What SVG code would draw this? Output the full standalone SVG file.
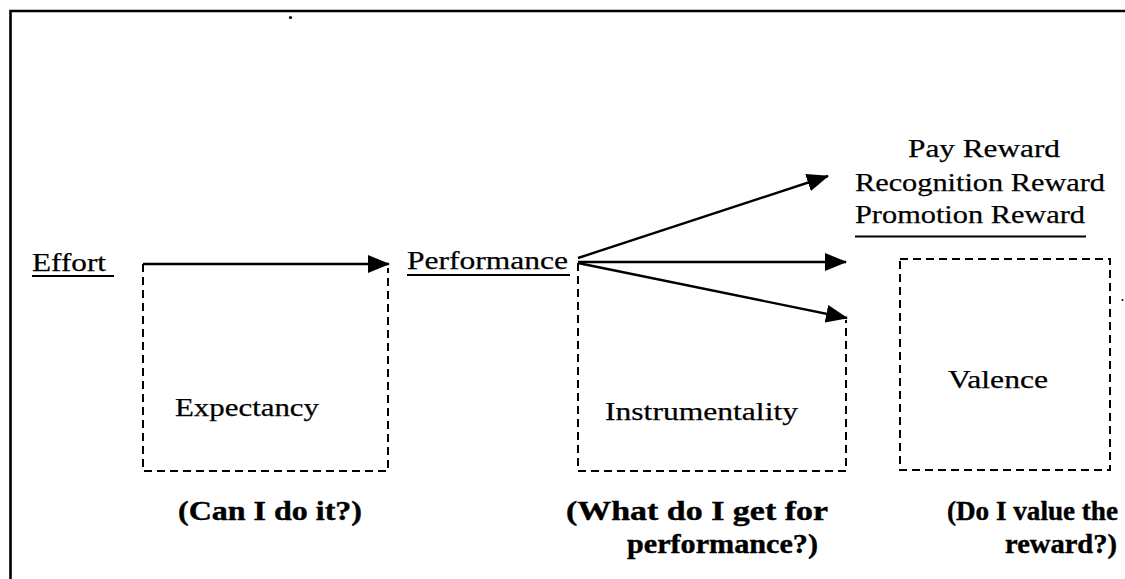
<svg xmlns="http://www.w3.org/2000/svg" width="1125" height="579" viewBox="0 0 1125 579">
  <style>
    .lbl { font-family: "Liberation Serif", "Times New Roman", Times, serif; font-size: 26px; fill: #000; stroke: #000; stroke-width: 0.25; }
    .q { font-family: "Liberation Serif", "Times New Roman", Times, serif; font-size: 27px; font-weight: bold; fill: #000; stroke: #000; stroke-width: 0.4; }
    .ul { stroke: #000; stroke-width: 1.8; }
    .box { fill: none; stroke: #000; stroke-width: 2; stroke-dasharray: 8 5; }
    .arrow { fill: none; stroke: #000; stroke-width: 2.4; marker-end: url(#head); }
  </style>
  <defs>
    <marker id="head" viewBox="0 0 22 18" refX="21" refY="9" markerWidth="22" markerHeight="18" markerUnits="userSpaceOnUse" orient="auto">
      <path d="M0,0 L22,9 L0,18 Z" fill="#000"/>
    </marker>
  </defs>
  <rect width="1125" height="579" fill="#fff"/>

  <!-- outer frame (top and left edges) -->
  <path d="M10.5,590 V11 H1130" fill="none" stroke="#000" stroke-width="2.6"/>
  <circle cx="290.5" cy="17.5" r="1.6" fill="#000"/>
  <circle cx="1122.5" cy="300" r="1" fill="#000"/>

  <g id="effort">
    <text class="lbl" x="32" y="271" textLength="74" lengthAdjust="spacingAndGlyphs">Effort</text>
    <line class="ul" x1="32" y1="276" x2="114" y2="276"/>
  </g>

  <g id="performance">
    <text class="lbl" x="407" y="269" textLength="161" lengthAdjust="spacingAndGlyphs">Performance</text>
    <line class="ul" x1="407" y1="275" x2="570" y2="275"/>
  </g>

  <g id="rewards">
    <text class="lbl" x="908" y="157" textLength="152" lengthAdjust="spacingAndGlyphs">Pay Reward</text>
    <text class="lbl" x="855" y="191" textLength="250" lengthAdjust="spacingAndGlyphs">Recognition Reward</text>
    <text class="lbl" x="855" y="223" textLength="230" lengthAdjust="spacingAndGlyphs">Promotion Reward</text>
    <line class="ul" x1="855" y1="236.5" x2="1086" y2="236.5"/>
  </g>

  <g id="expectancy">
    <path class="box" d="M143,264 V471 H388 V268"/>
    <text class="lbl" x="175" y="416" textLength="144" lengthAdjust="spacingAndGlyphs">Expectancy</text>
    <text class="q" x="178" y="520" textLength="184" lengthAdjust="spacingAndGlyphs">(Can I do it?)</text>
  </g>

  <g id="instrumentality">
    <path class="box" d="M578,263 V471 H846 V320"/>
    <text class="lbl" x="605" y="420" textLength="193" lengthAdjust="spacingAndGlyphs">Instrumentality</text>
    <text class="q" x="566" y="520" textLength="262" lengthAdjust="spacingAndGlyphs">(What do I get for</text>
    <text class="q" x="627" y="553" textLength="191" lengthAdjust="spacingAndGlyphs">performance?)</text>
  </g>

  <g id="valence">
    <rect class="box" x="900" y="259" width="210" height="211"/>
    <text class="lbl" x="948" y="388" textLength="100" lengthAdjust="spacingAndGlyphs">Valence</text>
    <text class="q" x="947" y="520" textLength="171" lengthAdjust="spacingAndGlyphs">(Do I value the</text>
    <text class="q" x="1005" y="553" textLength="112" lengthAdjust="spacingAndGlyphs">reward?)</text>
  </g>

  <g id="connectors">
    <line class="arrow" x1="143" y1="264" x2="389" y2="264"/>
    <line class="arrow" x1="578" y1="258" x2="828" y2="176"/>
    <line class="arrow" x1="578" y1="262" x2="846" y2="262"/>
    <line class="arrow" x1="578" y1="263" x2="847" y2="318"/>
  </g>
</svg>
